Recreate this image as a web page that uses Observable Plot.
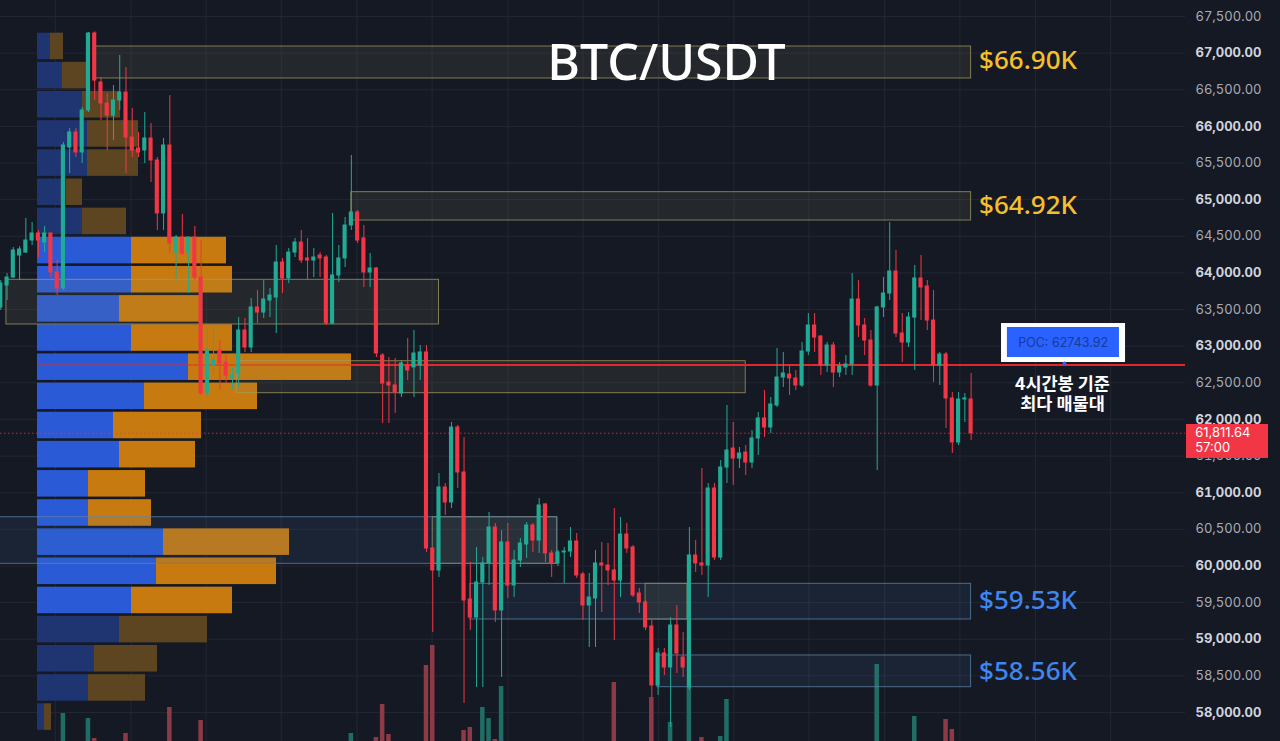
<!DOCTYPE html>
<html><head><meta charset="utf-8">
<script src="https://cdn.jsdelivr.net/npm/d3@7"></script>
<script src="https://cdn.jsdelivr.net/npm/@observablehq/plot@0.6"></script>
<style>
html,body{margin:0;padding:0;background:#151924;}
#wrap{position:relative;width:1280px;height:741px;overflow:hidden;background:#151924;}
#wrap svg{position:absolute;left:0;top:0;}
#edge{position:absolute;left:1275px;top:0;width:1px;height:741px;background:#353a46;}
</style></head><body><div id="wrap"><div id="edge"></div></div>
<script>
// ---- data ----
const opens = [63528,63828,63937,64238,64278,64442,64538,64415,64538,64006,
63787,65712,65917,65644,66217,67268,66599,66312,66148,66353,
66462,65848,65698,65671,65835,65534,64811,65739,64278,64483,
64278,64483,63937,62354,62736,62941,62777,62559,62627,63214,
62982,63528,63459,63623,63664,64142,63924,64278,64415,64197,
64169,64238,64210,63309,63965,64197,64647,64825,64470,64006,
64060,62873,62504,62463,62354,62736,62709,62736,62914,60238,
59938,61071,60866,61890,61276,59542,59296,59774,60034,60525,
59392,60320,59733,60074,60293,60552,60347,60839,60170,60034,
60184,60197,60334,59884,59460,59555,60034,60006,59938,59801,
60429,60252,59624,59501,59173,58368,58805,58614,59187,58750,
58341,60143,60034,60006,61057,60115,61344,61603,61466,61548,
61412,61740,62013,61890,62190,62572,62613,62559,62463,62927,
63282,63132,62736,63009,62640,62709,62750,63637,63282,63077,
62463,63528,63719,64019,63173,63050,63391,63924,63814,63350,
62736,62886,62286,61685,62272,62272];
const highs = [63896,63992,64347,64360,64743,64688,64579,64634,64538,64169,
65780,65971,65971,66257,67282,67290,66667,66449,66558,66968,
66804,66244,65917,66189,66039,65575,65835,66421,64511,64797,
64483,64634,64442,63241,63255,63077,62873,62695,63391,63378,
63651,63760,63896,63787,64374,64197,64333,64470,64579,64470,
64333,64278,64238,64811,64374,64756,65603,64852,64647,64265,
64074,62900,62845,62832,62804,63105,63214,63009,63009,60238,
61262,61126,61958,61917,61753,60047,60252,60115,60730,60580,
60484,60580,60211,60374,60593,60580,60921,60853,60211,60211,
60252,60525,60443,59911,59897,60211,60320,60306,60784,60661,
60580,60279,59692,59528,59255,58873,58873,59296,59460,59091,
60525,60347,61330,61126,61126,61439,62190,61958,61617,61644,
61849,62094,62395,62299,62968,62914,62736,62668,63050,63446,
63446,63146,63050,63050,62777,62873,63992,63896,63378,63214,
63545,63937,64688,64306,63446,63459,64101,64238,63896,63760,
62914,62914,62367,62367,62354,62627];
const lows = [63487,63623,63924,63896,64265,64374,64210,64278,63924,63691,
63760,65357,65575,65493,66189,66353,66080,65671,65807,66217,
65357,65575,65575,65493,65234,64579,64579,64265,63896,64238,
63719,63896,62327,62299,62640,62395,62490,62395,62436,62914,
62914,63309,63378,63391,63173,63719,63855,64210,64128,63896,
63937,63937,63282,63290,63869,64074,64579,64401,63801,63801,
62845,61945,61945,62081,62299,62531,62299,62531,60184,59091,
59843,60689,60784,61057,58122,59119,58341,58341,59733,59228,
58477,59555,59569,59979,60102,60184,60170,60047,59843,59993,
59761,60115,59829,59255,58887,58887,59364,59733,58982,59569,
60170,59569,59351,59119,58204,58232,58505,57795,58532,58477,
58300,59911,59870,59569,60074,60074,61126,61098,61330,61235,
61330,61508,61753,61808,62163,62436,62327,62395,62436,62873,
62914,62600,62640,62436,62572,62600,62600,63118,62873,62440,
61303,63391,63623,63118,62777,62982,62668,63350,63214,62504,
62463,61876,61535,61644,61958,61712];
const closes = [63855,63937,64306,64320,64442,64538,64442,64538,64006,63787,
65739,65917,65644,66217,67268,66626,66312,66148,66353,66462,
65848,65671,65644,65835,65534,64811,65739,64401,64483,64265,
64483,63937,62354,62941,62804,62764,62600,62600,63214,62982,
63528,63459,63637,63691,64142,63924,64278,64415,64169,64169,
64210,64197,63309,63965,64197,64647,64825,64442,64006,64060,
62900,62490,62463,62367,62764,62668,62900,62914,60238,59938,
61071,60866,61890,61276,59528,59296,59774,60034,60525,59392,
60320,59733,60074,60306,60552,60347,60825,60170,60034,60184,
60197,60334,59870,59460,59569,60034,60006,59938,59801,60429,
60238,59597,59501,59160,58368,58805,58614,59187,58805,58614,
60143,60034,60006,61057,60115,61344,61576,61466,61535,61412,
61740,62013,61890,62204,62572,62627,62559,62463,62927,63282,
63118,62736,63009,62640,62723,62750,63637,63282,63077,62463,
63528,63719,64019,63173,63050,63391,63924,63801,63350,62736,
62886,62286,61685,62272,62286,61811.64];
const volumes = [1200,900,1500,800,1300,700,900,1100,1600,1400,
4700,1500,1200,1700,4200,2200,1300,1600,1000,1200,
2700,1400,800,1100,1500,1800,1700,5300,1300,1100,
1200,1500,4000,1700,900,1000,800,600,1500,900,
1300,700,900,600,1600,900,1000,700,800,700,
600,700,1700,1800,900,1300,2700,1100,1400,800,
2300,5600,2600,1500,1400,1000,1200,900,9500,11500,
1800,1200,1700,1400,3000,3300,1800,5300,4200,2100,
7400,1500,1100,900,1000,800,1200,1300,900,600,
800,900,1300,1500,1400,1700,1200,900,7800,1600,
1100,1500,900,1200,6300,1600,1000,3800,1500,1100,
7300,1200,2300,1800,1500,2400,6100,1400,900,1000,
1200,1300,1100,1000,1700,900,800,700,1300,1500,
1000,1100,900,1000,600,700,1800,1400,1000,1500,
9600,1200,1700,1600,1100,900,4400,1200,1300,1600,
900,4100,3100,1700,800,1500];

// volume profile (24 price rows, top to bottom)
const profileTop = 67290, profileBin = 398;
const profileBuy  = [130,250,450,500,500,290,450,940,940,820,940,1510,1070,760,820,510,510,1260,1190,940,820,570,510,70];
const profileSell = [130,240,380,510,510,160,440,950,1010,800,1010,1630,1130,880,760,570,630,1260,1200,1010,880,630,570,70];
const valueAreaRows = [7, 19];
const poc = 62743.92;
const lastPrice = 61811.64;
const priceTicks = [58000,58500,59000,59500,60000,60500,61000,61500,62000,62500,63000,63500,64000,64500,65000,65500,66000,66500,67000,67500];
const gridCandles = [8.7,20.8,32.8,44.8,56.9,68.9,81.0,93.0,105.1,117.1,129.1,141.2,153.2,165.3,177.3];

const resistZones = [
  {x1: 15, x2: 155, lo: 66654, hi: 67090},
  {x1: 56, x2: 155, lo: 64715, hi: 65102},
  {x1: 0.9, x2: 70, lo: 63296, hi: 63906},
  {x1: 37.7, x2: 119, lo: 62358, hi: 62795},
  {x1: 69, x2: 88.9, lo: 60029, hi: 60665},
  {x1: 103, x2: 109.7, lo: 59269, hi: 59756}
];
const supportZones = [
  {x1: -1, x2: 88.9, lo: 60029, hi: 60665},
  {x1: 75, x2: 155, lo: 59269, hi: 59756},
  {x1: 104.9, x2: 155, lo: 58345, hi: 58778}
];
const levelLabels = [
  {text: "$66.90K", price: 66900, kind: "r"},
  {text: "$64.92K", price: 64920, kind: "r"},
  {text: "$59.53K", price: 59530, kind: "s"},
  {text: "$58.56K", price: 58560, kind: "s"}
];
const levelAnchor = 155;
const pocFade = [5.86, 56];
const pocBox = {outer: [159.86, 179.67, 62777, 63309], inner: [160.8, 178.7, 62845, 63255], text: [169.7, 63050], dot: [169.9, 62764]};
const noteAt = [169.6, 62354];
const noteText = "4시간봉 기준\n최다 매물대";
const tag = {x1: 189.41, x2: 202.51, y1: 61467, y2: 61931, textX: 190.8};
const title = "BTC/USDT";

// ---- styles ----
const up = "#22ab94", down = "#f23645";
const bg = "#151924", grid = "#222734";
const yDomain = [57603.7, 67718.4];
const xDomain = [-0.048, 189.25];
const frame = {width: 1280, height: 741, marginTop: 0, marginBottom: 0, marginLeft: 0, marginRight: 95};

const candles = opens.map((o, i) => ({i, o, h: highs[i], l: lows[i], c: closes[i], v: volumes[i], up: closes[i] >= o}));
const rows = profileBuy.map((b, k) => ({k, b, s: profileSell[k], hi: profileTop - k * profileBin, lo: profileTop - (k + 1) * profileBin,
  va: k >= valueAreaRows[0] && k <= valueAreaRows[1]}));

const wrap = document.getElementById("wrap");

// base: grid
const base = Plot.plot({...frame, style: {background: bg},
  x: {domain: xDomain, axis: null}, y: {domain: yDomain, axis: null},
  marks: [
    Plot.ruleY(priceTicks, {stroke: grid}),
    Plot.ruleX(gridCandles, {stroke: grid})
  ]});
wrap.appendChild(base);

// volume profile
const prof = Plot.plot({width: 1280, height: 741, marginTop: 0, marginBottom: 0, marginLeft: 37, marginRight: 0,
  style: {background: "transparent"},
  x: {domain: [0, 12430], axis: null}, y: {domain: yDomain, axis: null},
  marks: [
    Plot.rect(rows, {x1: 0, x2: "b", y1: "lo", y2: "hi", fill: d => d.va ? "#2a5ad6" : "#1e3572", insetTop: 1.3, insetBottom: 1.3}),
    Plot.rect(rows, {x1: "b", x2: d => d.b + d.s, y1: "lo", y2: "hi", fill: d => d.va ? "#c77a10" : "#5d4521", insetTop: 1.3, insetBottom: 1.3})
  ]});
wrap.appendChild(prof);

// volume bars
const vol = Plot.plot({...frame, style: {background: "transparent"},
  x: {domain: xDomain, axis: null}, y: {domain: [1900, 76000], axis: null},
  marks: [
    Plot.rect(candles, {x1: d => d.i - 0.36, x2: d => d.i + 0.36, y1: 0, y2: "v", fill: d => d.up ? "#1f6d64" : "#8c3a45"})
  ]});
wrap.appendChild(vol);

// main chart
const main = Plot.plot({...frame, style: {background: "transparent", fontFamily: "Inter, Roboto, sans-serif"},
  x: {domain: xDomain, axis: null}, y: {domain: yDomain, axis: null, label: null},
  marks: [
    Plot.rect(resistZones, {x1: "x1", x2: "x2", y1: "lo", y2: "hi", fill: "#8a8a60", fillOpacity: 0.13, stroke: "#a39e62", strokeOpacity: 0.75}),
    Plot.rect(supportZones, {x1: "x1", x2: "x2", y1: "lo", y2: "hi", fill: "#4a7aaa", fillOpacity: 0.12, stroke: "#5f86ab", strokeOpacity: 0.75}),
    Plot.ruleY([lastPrice], {stroke: down, strokeOpacity: 0.75, strokeDasharray: "1.5,2.5"}),
    Plot.ruleY([poc], {x1: pocFade[0], x2: pocFade[1], stroke: "#e8262d", strokeWidth: 2, strokeOpacity: 0.45}),
    Plot.ruleY([poc], {x1: pocFade[1], x2: xDomain[1], stroke: "#e3262c", strokeWidth: 2}),
    Plot.ruleX(candles, {x: "i", y1: "l", y2: "h", stroke: d => d.up ? up : down, strokeWidth: 1}),
    Plot.rect(candles, {x1: d => d.i - 0.33, x2: d => d.i + 0.33, y1: d => Math.min(d.o, d.c), y2: d => Math.max(d.o, d.c),
      fill: d => d.up ? up : down, insetTop: -0.5, insetBottom: -0.5}),
    Plot.text(levelLabels, {x: levelAnchor, y: "price", text: "text", dx: 8, textAnchor: "start",
      fill: d => d.kind === "r" ? "#f5bf2c" : "#3f86ef", fontSize: 26, fontWeight: 500, fontFamily: "'Noto Sans', sans-serif"}),
    Plot.axisY(priceTicks.filter(d => d % 1000 === 0), {anchor: "right", tickSize: 0, tickPadding: 10, tickFormat: ",.2f",
      fontSize: 13, fontWeight: "bold", color: "#d1d4dc", label: null}),
    Plot.axisY(priceTicks.filter(d => d % 1000 !== 0), {anchor: "right", tickSize: 0, tickPadding: 10, tickFormat: ",.2f",
      fontSize: 13, color: "#a9acb5", label: null}),
    Plot.rect([pocBox], {x1: d => d.outer[0], x2: d => d.outer[1], y1: d => d.outer[2], y2: d => d.outer[3], fill: "white"}),
    Plot.rect([pocBox], {x1: d => d.inner[0], x2: d => d.inner[1], y1: d => d.inner[2], y2: d => d.inner[3], fill: "#2962ff"}),
    Plot.text([pocBox], {x: d => d.text[0], y: d => d.text[1], text: () => "POC: " + d3.format(".2f")(poc), fill: "#1a3a98", fontSize: 12.5}),
    Plot.dot([pocBox], {x: d => d.dot[0], y: d => d.dot[1], r: 2, fill: "#2962ff"}),
    Plot.text([noteText], {x: noteAt[0], y: noteAt[1], fill: "white", fontSize: 17.5, fontWeight: 600, lineHeight: 1.15,
      fontFamily: "'Noto Sans CJK KR', sans-serif"}),
    Plot.rect([tag], {x1: "x1", x2: "x2", y1: "y1", y2: "y2", fill: down}),
    Plot.text([lastPrice], {x: tag.textX, y: d => d, text: d => d3.format(",.2f")(d), textAnchor: "start", fill: "white", fontSize: 13}),
    Plot.text([lastPrice], {x: tag.textX, y: d => d, text: () => "57:00", dy: 15, textAnchor: "start", fill: "white", fontSize: 13}),
    Plot.text([title], {frameAnchor: "top-left", dx: 666, dy: 63, textAnchor: "middle", lineAnchor: "middle", fill: "white",
      fontSize: 50, fontWeight: 500, fontFamily: "'Noto Sans', sans-serif"})
  ]});
wrap.appendChild(main);
</script></body></html>
